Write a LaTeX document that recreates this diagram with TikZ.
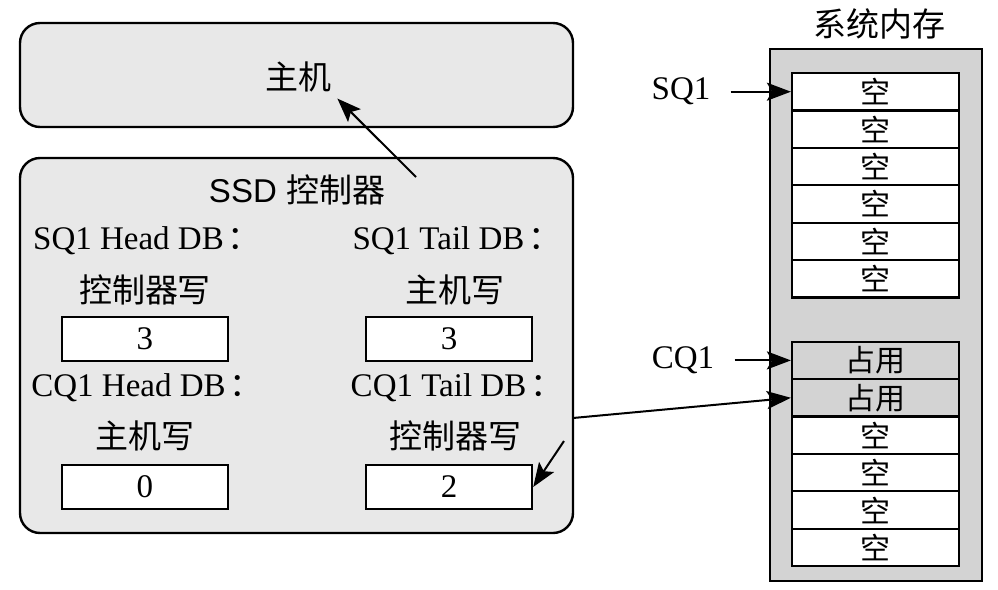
\documentclass[tikz,border=0pt]{standalone}
\usepackage{fontspec}
\setmainfont{Liberation Serif}
\setsansfont{Liberation Sans}
\newfontfamily\cjk{Noto Sans CJK SC}
\usetikzlibrary{arrows.meta}
\definecolor{panelgray}{HTML}{E8E8E8}
\definecolor{memgray}{HTML}{D3D3D3}

\begin{document}
\begin{tikzpicture}[x=0.5pt,y=-0.5pt]
  % Define styles
  \tikzstyle{panel} = [draw, line width=1.2pt, fill=panelgray, rounded corners=10pt, minimum width=276.5pt, inner sep=0pt]
  \tikzstyle{txt} = [font=\fontsize{16.5}{19}\selectfont, inner sep=0pt]
  \tikzstyle{cjktxt} = [font=\cjk\fontsize{16.5}{19}\selectfont, inner sep=0pt]
  \tikzstyle{regbox} = [draw, line width=1.2pt, fill=white, minimum width=83pt, minimum height=22pt, inner sep=0pt, font=\fontsize{16.5}{19}\selectfont]
  \tikzstyle{cell} = [draw, line width=1.1pt, fill=white, minimum width=83.5pt, minimum height=18.7pt, inner sep=0pt, font=\cjk\fontsize{15}{15}\selectfont]
  \tikzstyle{used} = [cell, fill=memgray]
  \tikzstyle{arrow} = [-{Stealth[length=12pt,width=9pt,inset=2.5pt]}, line width=1pt]

  \useasboundingbox (0,0) rectangle (998,590);

  % Host and controller
  \node[panel, minimum height=52pt] (host) at (296.5,75) {};
  \node[cjktxt, inner sep=3pt] (hosttxt) at (298,77) {主机};
  \node[panel, minimum height=187.5pt] (ssd) at (296.5,345.5) {};
  \node[txt, font=\sffamily\fontsize{16.5}{19}\selectfont] (ssdtxt) at (297,190) {SSD {\cjk 控制器}};

  % Doorbells
  \node[txt] (shd) at (147,241) {SQ1 Head DB\hspace{2pt}{\cjk ：}};
  \node[txt] (std) at (457,241) {SQ1 Tail DB\hspace{2pt}{\cjk ：}};
  \node[cjktxt] (shw) at (145,290) {控制器写};
  \node[cjktxt] (stw) at (455,290) {主机写};
  \node[regbox] (sh) at (145,339) {3};
  \node[regbox] (st) at (449,339) {3};
  \node[txt] (chd) at (147,388) {CQ1 Head DB\hspace{2pt}{\cjk ：}};
  \node[txt] (ctd) at (457,388) {CQ1 Tail DB\hspace{2pt}{\cjk ：}};
  \node[cjktxt] (chw) at (145,436) {主机写};
  \node[cjktxt] (ctw) at (455,436) {控制器写};
  \node[regbox] (ch) at (145,487) {0};
  \node[regbox] (ct) at (449,487) {2};

  % System memory
  \node[cjktxt] (memtxt) at (879,24) {系统内存};
  \node[draw, line width=1.1pt, fill=memgray, minimum width=106pt, minimum height=266pt] (mem) at (876,315) {};
  \foreach \i in {1,...,6}
    \node[cell] (s\i) at (875.5,{91.7+(\i-1)*37.4}) {空};
  \foreach \i in {1,2}
    \node[used] (c\i) at (875.5,{360.4+(\i-1)*37.4}) {占用};
  \foreach \i in {3,...,6}
    \node[cell] (c\i) at (875.5,{360.4+(\i-1)*37.4}) {空};
  \node[txt] (sq) at (681,91.7) {SQ1};
  \node[txt] (cq) at (683,360.4) {CQ1};

  % Edges
  \coordinate (up) at (416,177);
  \coordinate (out) at (573,418);
  \coordinate (dn) at (564,441);
  \draw[arrow] (up) -- (hosttxt.south east);
  \draw[arrow, shorten <=10pt] (sq.east) -- (s1.west);
  \draw[arrow, shorten <=10pt] (cq.east) -- (c1.west);
  \draw[arrow] (out) -- (c2.west);
  \draw[arrow] (dn) -- (ct.east);
\end{tikzpicture}
\end{document}
